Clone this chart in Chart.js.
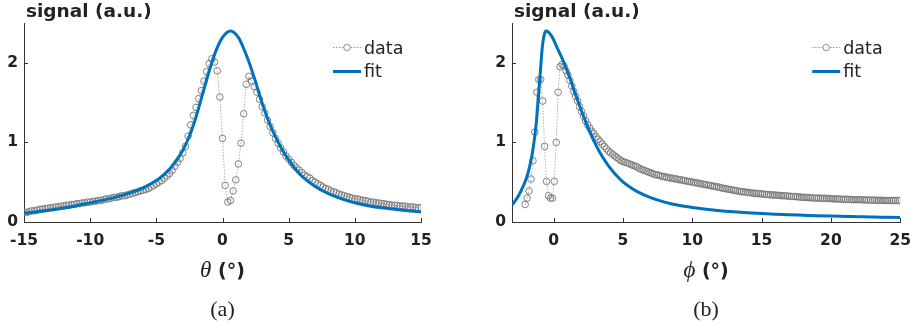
<!DOCTYPE html>
<html><head><meta charset="utf-8">
<script src="https://cdn.jsdelivr.net/npm/chart.js@4.4.0/dist/chart.umd.min.js"></script>
<style>
html,body{margin:0;padding:0;background:#fff;width:921px;height:326px;overflow:hidden;}
#wrapA{position:absolute;left:0;top:0;width:460px;height:326px;}
#wrapB{position:absolute;left:460px;top:0;width:461px;height:326px;}
</style></head><body>
<div id="wrapA"><canvas id="cA" width="460" height="326"></canvas></div>
<div id="wrapB"><canvas id="cB" width="461" height="326"></canvas></div>
<script>
const thetaTicks = [-15,-10,-5,0,5,10,15];
const phiTicks = [0,5,10,15,20,25];
const signalTicks = [0,1,2];
const seriesNames = ['data','fit'];
const yTitle = 'signal (a.u.)';

// panel (a): measured signal vs theta
const thetaData = [[-15.0,0.12],[-14.8,0.12],[-14.6,0.13],[-14.4,0.14],[-14.2,0.14],[-14.0,0.15],[-13.8,0.16],[-13.6,0.16],[-13.4,0.17],[-13.2,0.17],[-13.0,0.18],[-12.8,0.18],[-12.6,0.19],[-12.4,0.19],[-12.2,0.20],[-12.0,0.20],[-11.8,0.21],[-11.6,0.21],[-11.4,0.22],[-11.2,0.22],[-11.0,0.23],[-10.8,0.23],[-10.6,0.24],[-10.4,0.24],[-10.2,0.25],[-10.0,0.25],[-9.8,0.26],[-9.6,0.26],[-9.4,0.27],[-9.2,0.27],[-9.0,0.28],[-8.8,0.29],[-8.6,0.29],[-8.4,0.30],[-8.2,0.31],[-8.0,0.31],[-7.8,0.32],[-7.6,0.33],[-7.4,0.33],[-7.2,0.34],[-7.0,0.35],[-6.8,0.36],[-6.6,0.37],[-6.4,0.38],[-6.2,0.39],[-6.0,0.40],[-5.8,0.41],[-5.6,0.42],[-5.4,0.44],[-5.2,0.46],[-5.0,0.48],[-4.8,0.50],[-4.6,0.52],[-4.4,0.55],[-4.2,0.58],[-4.0,0.61],[-3.8,0.65],[-3.6,0.70],[-3.4,0.75],[-3.2,0.80],[-3.0,0.87],[-2.8,0.95],[-2.6,1.08],[-2.4,1.22],[-2.2,1.34],[-2.0,1.44],[-1.8,1.55],[-1.6,1.65],[-1.4,1.77],[-1.2,1.89],[-1.0,1.99],[-0.8,2.05],[-0.6,2.01],[-0.4,1.90],[-0.2,1.57],[0.0,1.05],[0.2,0.46],[0.4,0.25],[0.6,0.27],[0.8,0.39],[1.0,0.53],[1.2,0.73],[1.4,0.99],[1.6,1.36],[1.8,1.73],[2.0,1.83],[2.2,1.77],[2.4,1.70],[2.6,1.63],[2.8,1.54],[3.0,1.45],[3.2,1.37],[3.4,1.28],[3.6,1.20],[3.8,1.12],[4.0,1.05],[4.2,0.99],[4.4,0.93],[4.6,0.88],[4.8,0.83],[5.0,0.79],[5.2,0.75],[5.4,0.71],[5.6,0.68],[5.8,0.65],[6.0,0.62],[6.2,0.59],[6.4,0.57],[6.6,0.55],[6.8,0.52],[7.0,0.50],[7.2,0.48],[7.4,0.46],[7.6,0.44],[7.8,0.42],[8.0,0.41],[8.2,0.39],[8.4,0.38],[8.6,0.37],[8.8,0.35],[9.0,0.34],[9.2,0.33],[9.4,0.32],[9.6,0.31],[9.8,0.30],[10.0,0.29],[10.2,0.29],[10.4,0.28],[10.6,0.27],[10.8,0.27],[11.0,0.26],[11.2,0.25],[11.4,0.25],[11.6,0.24],[11.8,0.24],[12.0,0.23],[12.2,0.23],[12.4,0.22],[12.6,0.22],[12.8,0.21],[13.0,0.21],[13.2,0.21],[13.4,0.20],[13.6,0.20],[13.8,0.20],[14.0,0.19],[14.2,0.19],[14.4,0.19],[14.6,0.18],[14.8,0.18],[15.0,0.18]];

// panel (a): fitted curve vs theta
const thetaFit = [[-15,0.11],[-14,0.13],[-13,0.15],[-12,0.175],[-11,0.205],[-10,0.24],[-9,0.275],[-8,0.315],[-7,0.365],[-6,0.43],[-5,0.52],[-4.5,0.585],[-4,0.665],[-3.5,0.77],[-3,0.90],[-2.5,1.08],[-2,1.32],[-1.5,1.61],[-1,1.90],[-0.5,2.15],[0,2.32],[0.6,2.40],[1.2,2.32],[1.6,2.18],[2,2.01],[2.5,1.76],[3,1.49],[3.5,1.26],[4,1.07],[4.5,0.91],[5,0.78],[5.5,0.665],[6,0.575],[7,0.445],[8,0.355],[9,0.29],[10,0.24],[11,0.205],[12,0.18],[13,0.16],[14,0.142],[15,0.127]];

// panel (b): measured signal vs phi
const phiData = [[-2.05,0.22],[-1.91,0.30],[-1.77,0.39],[-1.63,0.54],[-1.49,0.77],[-1.35,1.13],[-1.21,1.63],[-1.07,1.79],[-0.93,1.79],[-0.79,1.52],[-0.65,0.95],[-0.51,0.51],[-0.37,0.33],[-0.23,0.30],[-0.09,0.30],[0.05,0.51],[0.19,1.00],[0.33,1.63],[0.47,1.95],[0.61,1.98],[0.75,1.96],[0.89,1.90],[1.03,1.85],[1.17,1.78],[1.31,1.71],[1.45,1.64],[1.59,1.58],[1.73,1.52],[1.87,1.45],[2.01,1.39],[2.16,1.33],[2.31,1.27],[2.46,1.22],[2.61,1.18],[2.76,1.14],[2.91,1.11],[3.06,1.07],[3.21,1.04],[3.36,1.01],[3.51,0.98],[3.66,0.95],[3.81,0.92],[3.96,0.89],[4.11,0.87],[4.26,0.85],[4.41,0.83],[4.56,0.81],[4.71,0.79],[4.86,0.77],[5.01,0.76],[5.16,0.75],[5.31,0.74],[5.46,0.73],[5.61,0.72],[5.76,0.71],[5.91,0.70],[6.06,0.69],[6.21,0.67],[6.36,0.66],[6.51,0.65],[6.66,0.64],[6.81,0.63],[6.96,0.62],[7.11,0.61],[7.26,0.60],[7.41,0.59],[7.56,0.59],[7.71,0.58],[7.86,0.57],[8.01,0.57],[8.16,0.56],[8.31,0.56],[8.46,0.55],[8.61,0.55],[8.76,0.54],[8.91,0.54],[9.06,0.53],[9.21,0.53],[9.36,0.52],[9.51,0.52],[9.66,0.51],[9.81,0.51],[9.96,0.50],[10.11,0.50],[10.26,0.49],[10.41,0.49],[10.56,0.48],[10.71,0.48],[10.86,0.47],[11.01,0.47],[11.16,0.46],[11.31,0.46],[11.46,0.45],[11.61,0.45],[11.76,0.44],[11.91,0.44],[12.06,0.43],[12.21,0.425],[12.36,0.42],[12.51,0.415],[12.66,0.41],[12.81,0.405],[12.96,0.40],[13.11,0.395],[13.26,0.39],[13.41,0.385],[13.56,0.38],[13.71,0.38],[13.86,0.375],[14.01,0.37],[14.16,0.37],[14.31,0.365],[14.46,0.36],[14.61,0.36],[14.76,0.355],[14.91,0.355],[15.06,0.35],[15.21,0.35],[15.36,0.345],[15.51,0.345],[15.66,0.34],[15.81,0.34],[15.96,0.34],[16.11,0.335],[16.26,0.335],[16.41,0.33],[16.56,0.33],[16.71,0.33],[16.86,0.325],[17.01,0.325],[17.16,0.32],[17.31,0.32],[17.46,0.32],[17.61,0.315],[17.76,0.315],[17.91,0.31],[18.06,0.31],[18.21,0.31],[18.36,0.305],[18.51,0.305],[18.66,0.305],[18.81,0.30],[18.96,0.30],[19.11,0.30],[19.26,0.30],[19.41,0.295],[19.56,0.30],[19.71,0.295],[19.86,0.295],[20.01,0.295],[20.16,0.29],[20.31,0.29],[20.46,0.29],[20.61,0.29],[20.76,0.285],[20.91,0.285],[21.06,0.285],[21.21,0.285],[21.36,0.285],[21.51,0.28],[21.66,0.28],[21.81,0.28],[21.96,0.28],[22.11,0.28],[22.26,0.28],[22.41,0.275],[22.56,0.28],[22.71,0.275],[22.86,0.275],[23.01,0.275],[23.16,0.275],[23.31,0.275],[23.46,0.27],[23.61,0.275],[23.76,0.27],[23.91,0.27],[24.06,0.27],[24.21,0.27],[24.36,0.27],[24.51,0.27],[24.66,0.27],[24.81,0.27],[24.96,0.27]];

// panel (b): fitted curve vs phi
const phiFit = [[-3.0,0.21],[-2.5,0.34],[-2.0,0.53],[-1.75,0.68],[-1.5,0.90],[-1.25,1.24],[-1.1,1.56],[-0.95,1.90],[-0.8,2.22],[-0.65,2.37],[-0.55,2.40],[-0.4,2.39],[-0.2,2.35],[0.0,2.29],[0.25,2.19],[0.5,2.10],[0.75,2.00],[1.0,1.89],[1.25,1.77],[1.5,1.64],[1.75,1.52],[2.0,1.40],[2.5,1.18],[3.0,0.985],[3.5,0.825],[4.0,0.695],[4.5,0.59],[5.0,0.505],[5.5,0.44],[6.0,0.385],[7.0,0.305],[8.0,0.25],[9.0,0.21],[10.0,0.182],[11.0,0.16],[12.0,0.142],[13.0,0.128],[14.0,0.116],[15.0,0.106],[16.0,0.098],[17.0,0.091],[18.0,0.085],[19.0,0.079],[20.0,0.074],[21.0,0.07],[22.0,0.066],[23.0,0.062],[24.0,0.059],[25.0,0.056]];

const BLUE = '#0072BD';
const GRAY = '#767676';
const AXIS = '#333333';
const TXT = '#222222';

function toXY(arr){ return arr.map(p => ({x:p[0], y:p[1]})); }

function decorPlugin(symbol, tag){
  return {
    id:'decor',
    afterDraw(chart){
      const ctx = chart.ctx, a = chart.chartArea, xs = chart.scales.x, ys = chart.scales.y;
      ctx.save();
      // inward tick marks
      ctx.strokeStyle = AXIS; ctx.lineWidth = 1;
      ctx.beginPath();
      xs.ticks.forEach(t => { const px = Math.round(xs.getPixelForValue(t.value)) + 0.5; ctx.moveTo(px, a.bottom); ctx.lineTo(px, a.bottom - 4); });
      ys.ticks.forEach(t => { const py = Math.round(ys.getPixelForValue(t.value)) + 0.5; ctx.moveTo(a.left, py); ctx.lineTo(a.left + 4, py); });
      ctx.stroke();
      // y title on top
      ctx.fillStyle = TXT; ctx.textAlign = 'left'; ctx.textBaseline = 'alphabetic';
      ctx.font = 'bold 18.5px "DejaVu Sans"';
      ctx.fillText(yTitle, a.left + 2, 17);
      // x axis label
      const cx = (a.left + a.right) / 2;
      const f1 = 'italic 23px "Liberation Serif"', f2 = 'bold 19px "DejaVu Sans"';
      ctx.font = f1; const w1 = ctx.measureText(symbol).width;
      ctx.font = f2; const w2 = ctx.measureText(' (°)').width;
      let sx = cx - (w1 + w2) / 2;
      ctx.font = f1; ctx.fillText(symbol, sx, 277);
      ctx.font = f2; ctx.fillText(' (°)', sx + w1, 277);
      // panel tag
      ctx.font = '22px "Liberation Serif"'; ctx.textAlign = 'center';
      ctx.fillText(tag, cx, 316);
      // legend
      const lx0 = a.right - 88, lx1 = a.right - 60;
      ctx.textAlign = 'left';
      ctx.strokeStyle = GRAY; ctx.lineWidth = 0.8; ctx.setLineDash([1.5,1.5]);
      ctx.beginPath(); ctx.moveTo(lx0, 47.5); ctx.lineTo(lx1, 47.5); ctx.stroke();
      ctx.setLineDash([]);
      ctx.fillStyle = '#fff';
      ctx.beginPath(); ctx.arc((lx0 + lx1) / 2, 47.5, 3.3, 0, Math.PI * 2); ctx.fill(); ctx.stroke();
      ctx.strokeStyle = BLUE; ctx.lineWidth = 3;
      ctx.beginPath(); ctx.moveTo(lx0, 71.5); ctx.lineTo(lx1, 71.5); ctx.stroke();
      ctx.fillStyle = TXT; ctx.font = '17.5px "DejaVu Sans"';
      ctx.fillText(seriesNames[0], lx1 + 3, 54);
      ctx.fillText(seriesNames[1], lx1 + 3, 77);
      ctx.restore();
    }
  };
}

function makeChart(id, dataPts, fitPts, xMin, xMax, xTicks, padLeft, padRight, symbol, tag){
  return new Chart(document.getElementById(id), {
    type:'line',
    data:{ datasets:[
      { label:seriesNames[1], data:toXY(fitPts), borderColor:BLUE, borderWidth:3, pointRadius:0, fill:false, cubicInterpolationMode:'monotone', order:0 },
      { label:seriesNames[0], data:toXY(dataPts), borderColor:'#9a9a9a', borderWidth:0.8, borderDash:[1.5,1.5], tension:0, pointRadius:3.3, pointBorderWidth:0.9, pointBorderColor:GRAY, pointBackgroundColor:'rgba(0,0,0,0)', fill:false, order:1 }
    ]},
    options:{
      responsive:false, animation:false, devicePixelRatio:1, events:[],
      layout:{ padding:{ left:padLeft, right:padRight, top:23, bottom:0 } },
      plugins:{ legend:{display:false}, tooltip:{enabled:false}, title:{display:false} },
      scales:{
        x:{ type:'linear', min:xMin, max:xMax,
            afterBuildTicks:s => { s.ticks = xTicks.map(v => ({value:v})); },
            afterFit:s => { s.height = 104; },
            grid:{ display:false, drawTicks:false },
            border:{ display:true, color:AXIS, width:1 },
            ticks:{ padding:10, color:TXT, autoSkip:false, maxRotation:0, font:{ family:'"DejaVu Sans"', weight:'bold', size:15.5 } } },
        y:{ type:'linear', min:0, max:2.5,
            afterBuildTicks:s => { s.ticks = signalTicks.map(v => ({value:v})); },
            afterFit:s => { s.width = 23; },
            grid:{ display:false, drawTicks:false },
            border:{ display:true, color:AXIS, width:1 },
            ticks:{ padding:6, color:TXT, font:{ family:'"DejaVu Sans"', weight:'bold', size:15.5 } } }
      }
    },
    plugins:[decorPlugin(symbol, tag)]
  });
}

makeChart('cA', thetaData, thetaFit, -15, 15, thetaTicks, 0, 39, 'θ', '(a)');
makeChart('cB', phiData, phiFit, -3, 25, phiTicks, 29, 11, 'ϕ', '(b)');
</script>
</body></html>
